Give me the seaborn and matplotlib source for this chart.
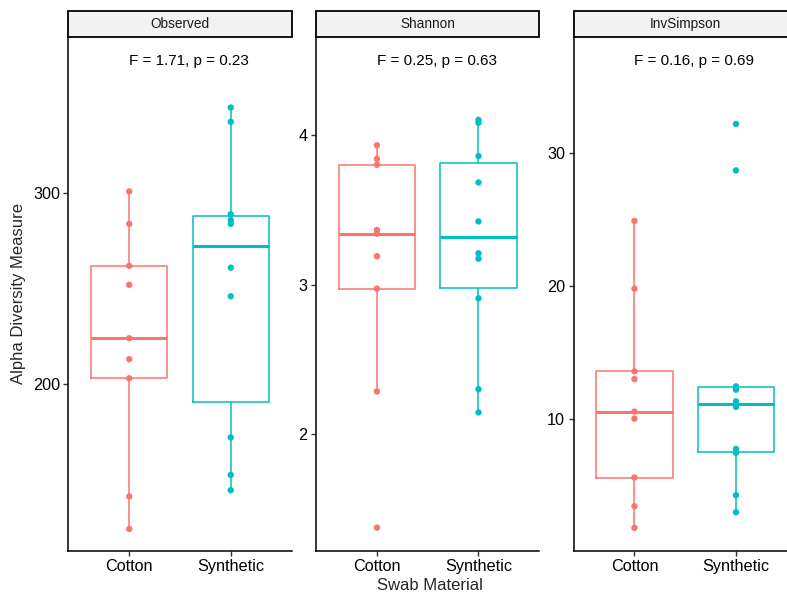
import numpy as np
import pandas as pd
import matplotlib
matplotlib.use("Agg")
import matplotlib.pyplot as plt
import seaborn as sns
from matplotlib.patches import Rectangle

# ---- data ----
measures = ["Observed", "Shannon", "InvSimpson"]
materials = ["Cotton", "Synthetic"]
observed_cotton = [301, 284, 262, 252, 224, 213, 203, 141, 124]
observed_synthetic = [345, 337.5, 289, 286, 284, 261, 246, 172, 152.3, 144.3]
shannon_cotton = [3.93, 3.84, 3.80, 3.365, 3.34, 3.19, 2.973, 2.287, 1.378]
shannon_synthetic = [4.10, 4.08, 3.858, 3.682, 3.422, 3.209, 3.173, 2.909, 2.302, 2.147]
invsimpson_cotton = [24.9, 19.8, 13.58, 13.0, 10.55, 10.02, 5.59, 3.43, 1.80]
invsimpson_synthetic = [32.2, 28.7, 12.45, 12.2, 11.32, 10.9, 7.74, 7.44, 4.26, 2.98]
annotations = ["F = 1.71, p = 0.23", "F = 0.25, p = 0.63", "F = 0.16, p = 0.69"]
y_ticks = [[200, 300], [2, 3, 4], [10, 20, 30]]
y_limits = [(112.4, 382.0), (1.222, 4.653), (0.06, 38.74)]

values = {
    ("Observed", "Cotton"): observed_cotton,
    ("Observed", "Synthetic"): observed_synthetic,
    ("Shannon", "Cotton"): shannon_cotton,
    ("Shannon", "Synthetic"): shannon_synthetic,
    ("InvSimpson", "Cotton"): invsimpson_cotton,
    ("InvSimpson", "Synthetic"): invsimpson_synthetic,
}
rows = []
for (m, mat), vals in values.items():
    for v in vals:
        rows.append({"measure": m, "material": mat, "value": v})
df = pd.DataFrame(rows)

palette = {"Cotton": "#F8766D", "Synthetic": "#00BFC4"}

sns.set_style("white")
plt.rcParams["font.family"] = ["Liberation Sans", "DejaVu Sans"]

W, H = 787, 592
fig = plt.figure(figsize=(W / 100, H / 100), dpi=100)
lefts = [68.3, 316.0, 573.5]
pw = 223.4
top, bottom = 37.0, 551.0
ph = bottom - top

for i, m in enumerate(measures):
    ax = fig.add_axes([lefts[i] / W, (H - bottom) / H, pw / W, ph / H])
    sub = df[df["measure"] == m]
    sns.boxplot(data=sub, x="material", y="value", hue="material",
                order=materials, hue_order=materials, palette=palette,
                fill=False, width=0.75, showfliers=False, showcaps=False,
                linewidth=1.1, medianprops=dict(linewidth=2.2),
                legend=False, ax=ax)
    sns.stripplot(data=sub, x="material", y="value", hue="material",
                  order=materials, hue_order=materials, palette=palette,
                  jitter=False, size=4.6, linewidth=0, legend=False,
                  ax=ax, zorder=4)
    ax.set_xlim(-0.6, 1.6)
    ax.set_ylim(*y_limits[i])
    ax.set_yticks(y_ticks[i])
    ax.set_xlabel("")
    ax.set_ylabel("")
    for s in ["top", "right"]:
        ax.spines[s].set_visible(False)
    for s in ["left", "bottom"]:
        ax.spines[s].set_color("black")
        ax.spines[s].set_linewidth(1.1)
    ax.tick_params(axis="both", which="major", length=3.5, width=1.0,
                   color="#333333", labelsize=11.7, pad=2.5,
                   labelcolor="black", left=True, bottom=True)
    ax.grid(False)
    sh = 26.0 / ph
    ax.add_patch(Rectangle((0, 1), 1, sh, transform=ax.transAxes,
                           clip_on=False, facecolor="#F2F2F2",
                           edgecolor="black", linewidth=1.3, zorder=5))
    ax.text(0.5, 1 + sh / 2, m, transform=ax.transAxes, ha="center",
            va="center", fontsize=9.8, color="#1A1A1A", zorder=6)
    ax.text(0.54, 0.953, annotations[i], transform=ax.transAxes,
            ha="center", va="center", fontsize=11, color="black")

fig.text(430 / W, 1 - 585 / H, "Swab Material", ha="center", va="center",
         fontsize=12)
fig.text(19 / W, 1 - 294 / H, "Alpha Diversity Measure", ha="center",
         va="center", rotation=90, fontsize=12)

fig.savefig("out.png", dpi=100)
